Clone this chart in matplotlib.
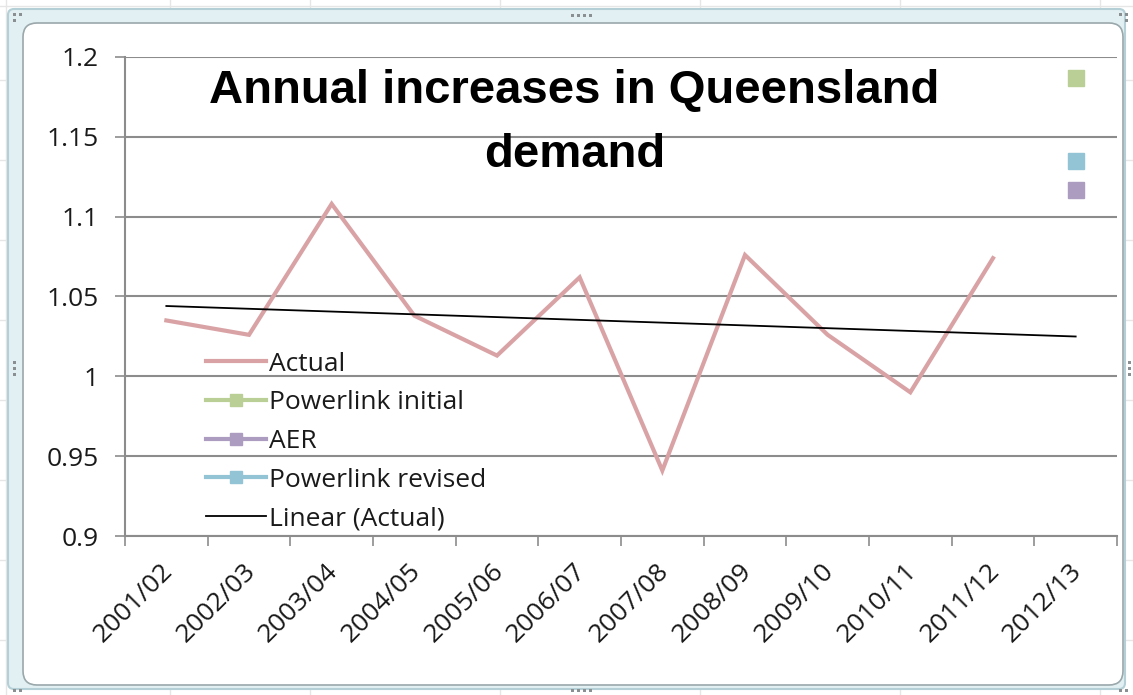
import numpy as np
import matplotlib
matplotlib.use('Agg')
import matplotlib.pyplot as plt
import matplotlib.transforms as mtransforms
from matplotlib.patches import FancyBboxPatch, Rectangle

years = ['2001/02', '2002/03', '2003/04', '2004/05', '2005/06', '2006/07',
         '2007/08', '2008/09', '2009/10', '2010/11', '2011/12', '2012/13']
actual = [1.035, 1.026, 1.108, 1.038, 1.013, 1.062, 0.941, 1.076, 1.026, 0.990, 1.074]
powerlink_initial = 1.187
aer = 1.117
powerlink_revised = 1.135

W, H = 1133, 695
fig = plt.figure(figsize=(W / 100, H / 100), dpi=100)
fig.patch.set_facecolor('white')

# spreadsheet cells behind the chart
bg = fig.add_axes([0, 0, 1, 1], zorder=-5)
bg.set_xlim(0, W)
bg.set_ylim(H, 0)
bg.axis('off')
for gx in [6, 170, 310, 500, 700, 900, 1100]:
    bg.plot([gx, gx], [0, H], color='#e6e6e6', lw=1, zorder=0)
for gy in [6, 80, 160, 240, 320, 400, 480, 560, 640]:
    bg.plot([0, W], [gy, gy], color='#e6e6e6', lw=1, zorder=0)

# selection frame and chart area
bg.add_patch(FancyBboxPatch((8, 9), W - 16, H - 15, boxstyle='round,pad=0,rounding_size=6',
                            fc='#e3f0f3', ec='#b4cfd6', lw=1.5, zorder=1))
bg.add_patch(FancyBboxPatch((23, 23), W - 33, H - 33, boxstyle='round,pad=0,rounding_size=14',
                            fc='white', ec='#9aa7ab', lw=1.2, zorder=2))
for (hx, hy) in [(572, 15), (578, 15), (584, 15), (590, 15),
                 (572, 690), (578, 690), (584, 690), (590, 690),
                 (14, 362), (14, 368), (14, 374), (1129, 362), (1129, 368), (1129, 374),
                 (14, 14), (20, 14), (14, 20), (1126, 14), (1120, 14), (1126, 20),
                 (14, 690), (20, 690), (1126, 690), (1120, 690)]:
    bg.add_patch(Rectangle((hx - 1.5, hy - 1.5), 3, 3, fc='#8a8f92', ec='none', zorder=3))

ax = fig.add_axes([125 / W, 1 - 536 / H, (1117 - 125) / W, (536 - 57) / H])
ax.set_facecolor('none')

x = np.arange(len(years))
xa = x[:len(actual)]

ax.plot(xa, actual, color='#d9a3a6', lw=3, label='Actual', solid_joinstyle='miter', zorder=3)
ax.plot([11], [powerlink_initial], color='#b9cf95', marker='s', ms=11, lw=3,
        label='Powerlink initial', zorder=4)
ax.plot([11], [aer], color='#ab9cc0', marker='s', ms=11, lw=3, label='AER', zorder=4)
ax.plot([11], [powerlink_revised], color='#93c4d6', marker='s', ms=11, lw=3,
        label='Powerlink revised', zorder=4)

# linear trend of the actual series, forecast one period forward
k, b = np.polyfit(xa + 1, actual, 1)
ax.plot(x, k * (x + 1) + b, color='black', lw=1.3, label='Linear (Actual)', zorder=3)

ax.set_xlim(-0.5, 11.5)
ax.set_ylim(0.9, 1.2)
yt = [0.9, 0.95, 1.0, 1.05, 1.1, 1.15, 1.2]
ax.set_yticks(yt)
ax.set_yticklabels(['0.9', '0.95', '1', '1.05', '1.1', '1.15', '1.2'])
for v in yt:
    ax.axhline(v, color='#8c8c8c', lw=1.5, zorder=1)

ax.set_xticks(np.arange(-0.5, 12, 1))
ax.set_xticklabels([])
ax.set_xticks(x, minor=True)
ax.set_xticklabels(years, minor=True, rotation=45, ha='right', rotation_mode='anchor',
                   fontsize=19, family='Open Sans', color='#1a1a1a')
ax.tick_params(axis='x', which='major', length=7, width=1.2, color='#8c8c8c', direction='out')
ax.tick_params(axis='x', which='minor', length=0, pad=16)
shift = mtransforms.ScaledTranslation(-6 / 100, 0, fig.dpi_scale_trans)
for t in ax.xaxis.get_minorticklabels():
    t.set_transform(t.get_transform() + shift)
ax.tick_params(axis='y', length=7, width=1.2, color='#8c8c8c', pad=12, labelsize=19,
               labelcolor='#1a1a1a')
for t in ax.get_yticklabels():
    t.set_family('Open Sans')

for s in ['top', 'right']:
    ax.spines[s].set_visible(False)
for s in ['left', 'bottom']:
    ax.spines[s].set_color('#8c8c8c')
    ax.spines[s].set_linewidth(1.5)

ax.text(0.453, 0.975, 'Annual increases in Queensland\ndemand', transform=ax.transAxes,
        ha='center', va='top', fontsize=34, fontweight='bold', family='Liberation Sans',
        linespacing=1.6, color='black')

leg = ax.legend(loc='lower left', bbox_to_anchor=(0.058, -0.04), frameon=False,
                prop={'family': 'Open Sans', 'size': 19}, handlelength=2.27,
                handletextpad=0.12, labelspacing=0.52, markerscale=0.85)
for t in leg.get_texts():
    t.set_color('#1a1a1a')

fig.savefig('out.png', dpi=100)
